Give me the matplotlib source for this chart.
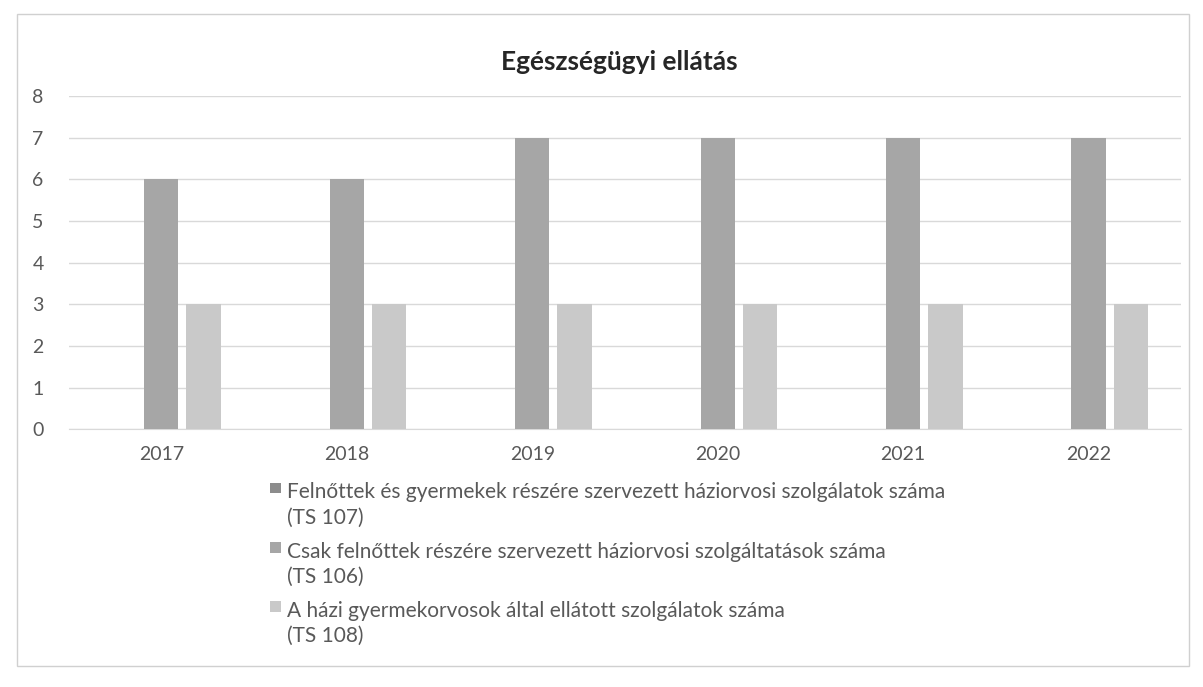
import numpy as np
import matplotlib
matplotlib.use("Agg")
from matplotlib import pyplot as plt
from matplotlib.patches import Rectangle
from matplotlib.legend_handler import HandlerPatch

years = ["2017", "2018", "2019", "2020", "2021", "2022"]
ts107 = [0, 0, 0, 0, 0, 0]
ts106 = [6, 6, 7, 7, 7, 7]
ts108 = [3, 3, 3, 3, 3, 3]
labels = [
    "Felnőttek és gyermekek részére szervezett háziorvosi szolgálatok száma\n(TS 107)",
    "Csak felnőttek részére szervezett háziorvosi szolgáltatások száma\n(TS 106)",
    "A házi gyermekorvosok által ellátott szolgálatok száma\n(TS 108)",
]
colors = ["#8c8c8c", "#a6a6a6", "#c9c9c9"]

plt.rcParams["font.family"] = ["Lato", "DejaVu Sans"]


# small square marker sitting on the first line of a two-line label
def top_square(legend, orig_handle, xdescent, ydescent, width, height, fontsize):
    s = 0.5 * fontsize
    return Rectangle((-xdescent, 0.95 * fontsize), s, s)


fig = plt.figure(figsize=(12.03, 6.87), dpi=100)
ax = fig.add_axes([0.057, 0.375, 0.925, 0.485])

x = np.arange(len(years))
width = 0.185
step = 0.228
for i, (vals, col, lab) in enumerate(zip([ts107, ts106, ts108], colors, labels)):
    ax.bar(x + (i - 1) * step, vals, width, color=col, label=lab, zorder=3)

ax.set_ylim(0, 8)
ax.set_xlim(-0.5, len(years) - 0.5)
ax.set_yticks(range(0, 9))
ax.set_xticks(x)
ax.set_xticklabels(years)
ax.yaxis.grid(True, color="#d9d9d9", linewidth=1, zorder=0)
for s in ax.spines.values():
    s.set_visible(False)
ax.spines["bottom"].set_visible(True)
ax.spines["bottom"].set_color("#d9d9d9")
ax.tick_params(length=0, labelsize=14, colors="#595959", pad=12)
ax.tick_params(axis="y", pad=18)

fig.text(0.515, 0.91, "Egészségügyi ellátás", ha="center", va="center",
         fontsize=19, fontweight="bold", color="#262626")

proxies = [Rectangle((0, 0), 1, 1, facecolor=c) for c in colors]
leg = fig.legend(proxies, labels, loc="upper left", bbox_to_anchor=(0.209, 0.325),
                 frameon=False, fontsize=15, handlelength=0.5, handleheight=2.0,
                 handletextpad=0.3, labelspacing=0.65, labelcolor="#595959",
                 handler_map={Rectangle: HandlerPatch(patch_func=top_square)})
for t in leg.get_texts():
    t.set_linespacing(1.35)

fig.patches.append(Rectangle((0.014, 0.03), 0.974, 0.95, transform=fig.transFigure,
                             fill=False, edgecolor="#d0d0d0", linewidth=1))

fig.savefig("out.png", dpi=100, facecolor="white")
